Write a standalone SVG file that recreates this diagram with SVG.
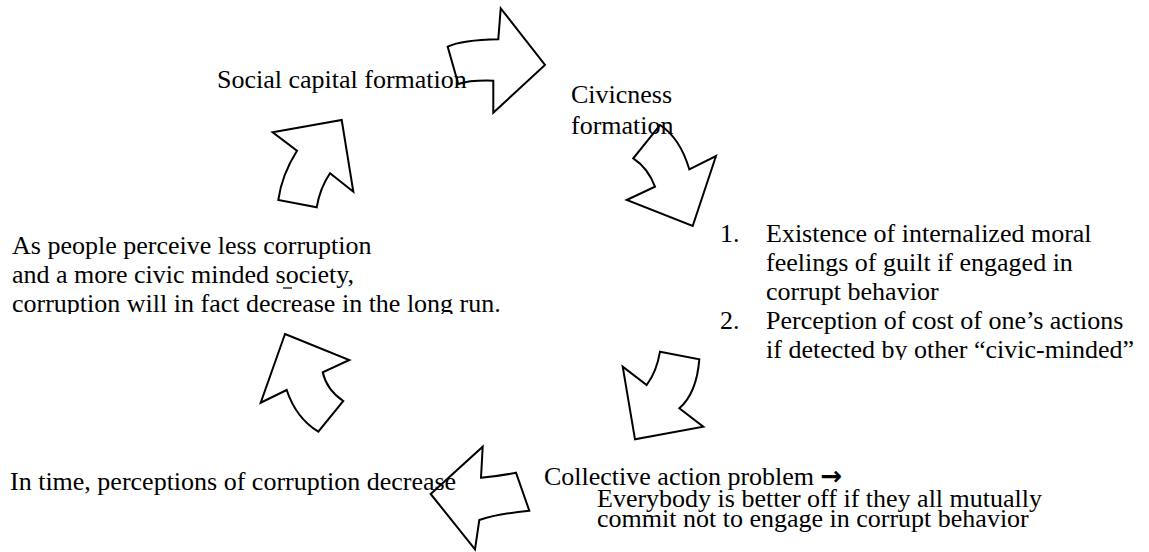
<svg xmlns="http://www.w3.org/2000/svg" width="1149" height="552" viewBox="0 0 1149 552">
<style>
.t{font-family:"Liberation Serif","Times New Roman",serif;font-size:26px;fill:#000}
.arr{font-family:"DejaVu Sans",sans-serif;font-weight:bold;font-size:26px}
.a{fill:#fff;stroke:#000;stroke-width:2;stroke-linejoin:miter}
</style>
<defs>
<clipPath id="cl"><rect x="0" y="230" width="560" height="84"/></clipPath>
<clipPath id="cr"><rect x="700" y="215" width="449" height="145"/></clipPath>
</defs>
<rect width="1149" height="552" fill="#fff"/>
<g id="connectors">
<path class="a" d="M447.7,46.7 Q462,40 498.3,39.3 L500.7,8.3 L545,65 L493.3,112.7 L493.3,80.7 Q470,80 458.3,84 Z"/>
<path class="a" d="M660,125 Q680,138 689.3,169.3 L716,156 L692.7,226 L626.7,200 L655,186.7 Q648,168 633.3,158.3 Z"/>
<path class="a" d="M660,351.7 L699.3,359.3 Q696.7,393 679.3,408.3 L703.3,426.7 L635,439.3 L622.7,366.7 L646.7,385 Q656.7,371.7 660,351.7 Z"/>
<path class="a" d="M430.7,494 L482.7,446.7 L481,477.7 Q500,476 516,472.7 L529.3,510.7 Q496.7,514 479.3,520 L475,549.3 Z"/>
<path class="a" d="M285,334 L349.3,360 L322.7,372.3 Q326.7,390 343.3,401 L318.3,431.7 Q296,418 286.7,390 L260.7,402.7 Z"/>
<path class="a" d="M272.7,132.3 L341.7,120 L353.3,191.7 L330,173.3 Q320,188 316.7,207.3 L278.3,200 Q281.7,175 297,150.7 Z"/>
</g>
<g id="social">
<text class="t" x="217" y="88">Social capital formation</text>
</g>
<g id="civicness">
<text class="t" x="571" y="103">Civicness</text>
<text class="t" x="571" y="134">formation</text>
</g>
<g id="conditions" clip-path="url(#cr)">
<text class="t" x="720" y="242">1.</text>
<text class="t" x="766" y="242">Existence of internalized moral</text>
<text class="t" x="766" y="271">feelings of guilt if engaged in</text>
<text class="t" x="766" y="300">corrupt behavior</text>
<text class="t" x="720" y="329">2.</text>
<text class="t" x="766" y="329">Perception of cost of one’s actions</text>
<text class="t" x="766" y="358">if detected by other “civic-minded”</text>
</g>
<g id="collective">
<text class="t" x="544" y="485">Collective action problem <tspan class="arr">→</tspan></text>
<text class="t" x="597" y="507">Everybody is better off if they all mutually</text>
<text class="t" x="597" y="527">commit not to engage in corrupt behavior</text>
</g>
<g id="perceptions">
<text class="t" x="10" y="490">In time, perceptions of corruption decrease</text>
</g>
<g id="civic-society">
<g clip-path="url(#cl)">
<text class="t" x="12" y="254">As people perceive less corruption</text>
<text class="t" x="12" y="283">and a more civic minded society,</text>
<text class="t" x="12" y="312">corruption will in fact decrease in the long run.</text>
</g>
<line x1="283" y1="288" x2="292" y2="288" stroke="#000" stroke-width="1.2"/>
</g>
</svg>
